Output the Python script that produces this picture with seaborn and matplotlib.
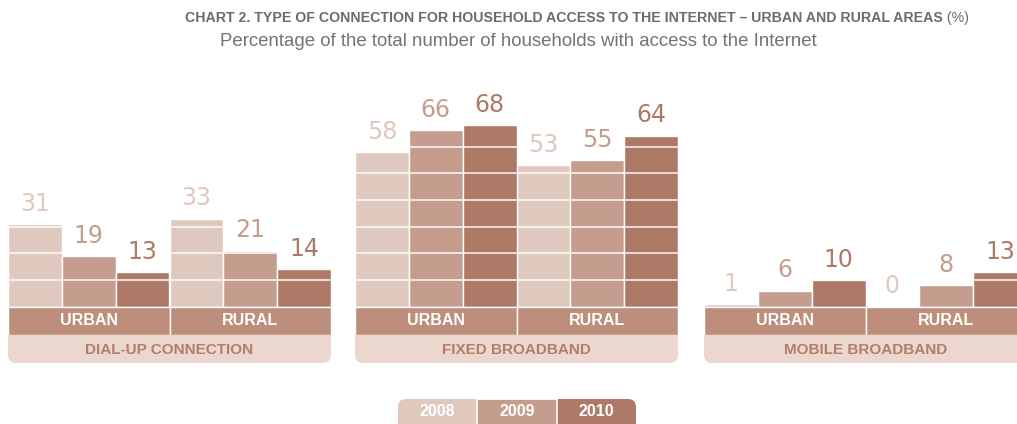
import matplotlib
matplotlib.use("Agg")
import matplotlib.pyplot as plt
import pandas as pd
import seaborn as sns
from matplotlib.patches import FancyBboxPatch, Rectangle

sns.set_theme(style="white")
plt.rcParams["font.family"] = ["Liberation Sans", "DejaVu Sans"]

years = ["2008", "2009", "2010"]
areas = ["URBAN", "RURAL"]
connections = ["DIAL-UP CONNECTION", "FIXED BROADBAND", "MOBILE BROADBAND"]
# urban 2008-2010, then rural 2008-2010
dial_up = [31, 19, 13, 33, 21, 14]
fixed = [58, 66, 68, 53, 55, 64]
mobile = [1, 6, 10, 0, 8, 13]

colors = ["#dfc8bd", "#c59d8e", "#ae7966"]
band = "#bd8e7b"
light_band = "#ebd7ce"
band_text = "#b27d6a"
grey = "#6b6b6b"

W, H = 1017, 424
fig = plt.figure(figsize=(W / 100, H / 100), dpi=100)

base = 306.7      # pixel row of zero line
ppu = 2.67        # pixels per percentage point
top_px, bot_px = 60, 335
lefts = [8, 355, 704]
pw = 323

for left, name, vals in zip(lefts, connections, [dial_up, fixed, mobile]):
    ax = fig.add_axes([left / W, (H - bot_px) / H, pw / W, (bot_px - top_px) / H])
    ax.patch.set_alpha(0)
    df = pd.DataFrame({
        "area": [a for a in areas for _ in years],
        "year": years * 2,
        "value": vals,
    })
    sns.barplot(data=df, x="area", y="value", hue="year", palette=colors,
                width=1, saturation=1, edgecolor="white", linewidth=1,
                legend=False, ax=ax)
    for cont, c in zip(ax.containers, colors):
        ax.bar_label(cont, color=c, fontsize=17, padding=6, zorder=4,
                     family=["DejaVu Sans"])
    for y in range(10, 70, 10):
        ax.axhline(y, color="white", lw=1.4, alpha=0.75, zorder=2)
    h1 = (bot_px - base) / ppu
    ax.bar([0, 1], [-h1, -h1], width=1, color=band, edgecolor="white",
           linewidth=1, zorder=3)
    for i, a in enumerate(areas):
        ax.text(i, -h1 / 2, a, ha="center", va="center", color="white",
                fontsize=11.5, fontweight="bold", zorder=5)
    ax.set_xlim(-0.5, 1.5)
    ax.set_ylim(-h1, (base - top_px) / ppu)
    ax.set_axis_off()

    fig.add_artist(FancyBboxPatch(
        (left / 100, (H - 363) / 100), pw / 100, (363 - 325) / 100,
        boxstyle="round,pad=0,rounding_size=0.08", transform=fig.dpi_scale_trans,
        fc=light_band, ec="none", zorder=-1))
    fig.text((left + pw / 2) / W, (H - 349.5) / H, name, ha="center", va="center",
             color=band_text, fontsize=11, fontweight="bold")

# legend blocks
leg = [(398, 477), (478, 556), (557, 636)]
ly0, ly1 = 399, 430
fig.add_artist(FancyBboxPatch(
    (leg[0][0] / 100, (H - ly1) / 100), (leg[0][1] - leg[0][0] + 20) / 100, (ly1 - ly0) / 100,
    boxstyle="round,pad=0,rounding_size=0.08", transform=fig.dpi_scale_trans,
    fc=colors[0], ec="none", zorder=1))
fig.add_artist(FancyBboxPatch(
    ((leg[2][0] - 20) / 100, (H - ly1) / 100), (leg[2][1] - leg[2][0] + 20) / 100, (ly1 - ly0) / 100,
    boxstyle="round,pad=0,rounding_size=0.08", transform=fig.dpi_scale_trans,
    fc=colors[2], ec="none", zorder=1))
fig.add_artist(Rectangle(
    (leg[1][0] / 100 - 0.01, (H - ly1) / 100), (leg[1][1] - leg[1][0]) / 100 + 0.02, (ly1 - ly0) / 100,
    transform=fig.dpi_scale_trans, fc=colors[1], ec="white", lw=1.2, zorder=2))
for (x0, x1), yr in zip(leg, years):
    fig.text((x0 + x1) / 2 / W, (H - 412) / H, yr, ha="center", va="center",
             color="white", fontsize=11.5, fontweight="bold", zorder=3)

# title: bold part plus normal "(%)", fitted to the reference width
title_txt = "CHART 2. TYPE OF CONNECTION FOR HOUSEHOLD ACCESS TO THE INTERNET \u2013 URBAN AND RURAL AREAS"
r = fig.canvas.get_renderer()
t1 = fig.text(0, 0, title_txt, fontsize=11, fontweight="bold")
t2 = fig.text(0, 0, " (%)", fontsize=11)
wtot = t1.get_window_extent(r).width + t2.get_window_extent(r).width
fs = 11 * 775 / wtot
t1.set_fontsize(fs)
t2.set_fontsize(fs)
w1 = t1.get_window_extent(r).width
w2 = t2.get_window_extent(r).width
x0 = 577 - (w1 + w2) / 2
t1.set_position((x0 / W, (H - 18) / H))
t1.set(ha="left", va="center", color=grey)
t2.set_position(((x0 + w1) / W, (H - 18) / H))
t2.set(ha="left", va="center", color=grey)

fig.text(518 / W, (H - 42) / H,
         "Percentage of the total number of households with access to the Internet",
         ha="center", va="center", color="#737373", fontsize=13.4)

fig.savefig("out.png", dpi=100, facecolor="white")
